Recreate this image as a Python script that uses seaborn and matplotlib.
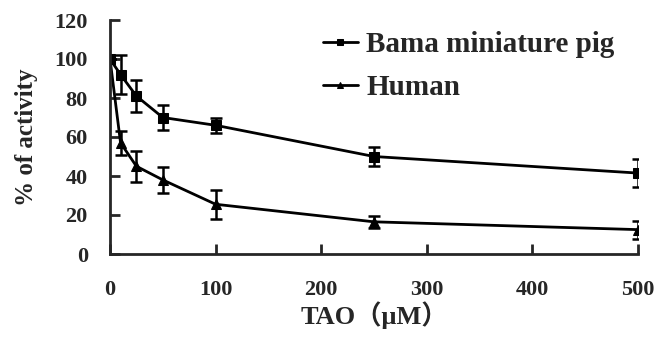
import numpy as np
import pandas as pd
import seaborn as sns
from matplotlib import pyplot as plt

# TAO concentration (uM)
conc = [0, 10, 25, 50, 100, 250, 500]
pig = [100, 92, 81, 70, 66, 50, 41.5]
pig_err = [0, 10, 8, 6.4, 4, 5, 7]
human = [100, 57, 45, 38, 25.5, 16.5, 12.5]
human_err = [0, 6, 8, 6.5, 7.4, 3, 4.6]

x_ticks = [0, 100, 200, 300, 400, 500]
y_ticks = [0, 20, 40, 60, 80, 100, 120]

sns.set_style("ticks")
plt.rcParams['font.family'] = ['Liberation Serif', 'Noto Sans CJK SC']
plt.rcParams['font.weight'] = 'bold'

df = pd.DataFrame({
    "conc": conc * 2,
    "act": pig + human,
    "group": ["Bama miniature pig"] * len(conc) + ["Human"] * len(conc),
})

fig = plt.figure(figsize=(6.56, 3.37), dpi=100)
ax = fig.add_axes([110 / 656, 1 - 254 / 337, 528 / 656, 234 / 337])

sns.lineplot(data=df, x="conc", y="act", hue="group", style="group",
             markers={"Bama miniature pig": "s", "Human": "^"}, dashes=False,
             palette=["black", "black"], linewidth=2, markersize=6.5,
             markeredgecolor="black", ax=ax)

ax.errorbar(conc, pig, yerr=pig_err, fmt="none", ecolor="black",
            elinewidth=1.8, capsize=4, capthick=1.8)
ax.errorbar(conc, human, yerr=human_err, fmt="none", ecolor="black",
            elinewidth=1.8, capsize=4, capthick=1.8)

ax.set_xlim(0, 500)
ax.set_ylim(0, 120)
ax.set_xticks(x_ticks)
ax.set_yticks(y_ticks)
ax.tick_params(direction="in", length=7, width=2, labelsize=16)
ax.tick_params(axis="x", pad=19)
ax.tick_params(axis="y", pad=16)
for s in ["top", "right"]:
    ax.spines[s].set_visible(False)
for s in ["left", "bottom"]:
    ax.spines[s].set_linewidth(2)
ax.set_xlabel("TAO（μM）", fontsize=19, fontweight="bold", labelpad=1)
ax.set_ylabel("% of activity", fontsize=18, fontweight="bold", labelpad=12)

leg = ax.legend(loc="upper left", bbox_to_anchor=(0.353, 1.065), frameon=False,
                fontsize=21, handlelength=1.2, handletextpad=0.3,
                labelspacing=0.55, markerscale=0.6)
for t in leg.get_texts():
    t.set_fontweight("bold")

fig.savefig("out.png", dpi=100)
